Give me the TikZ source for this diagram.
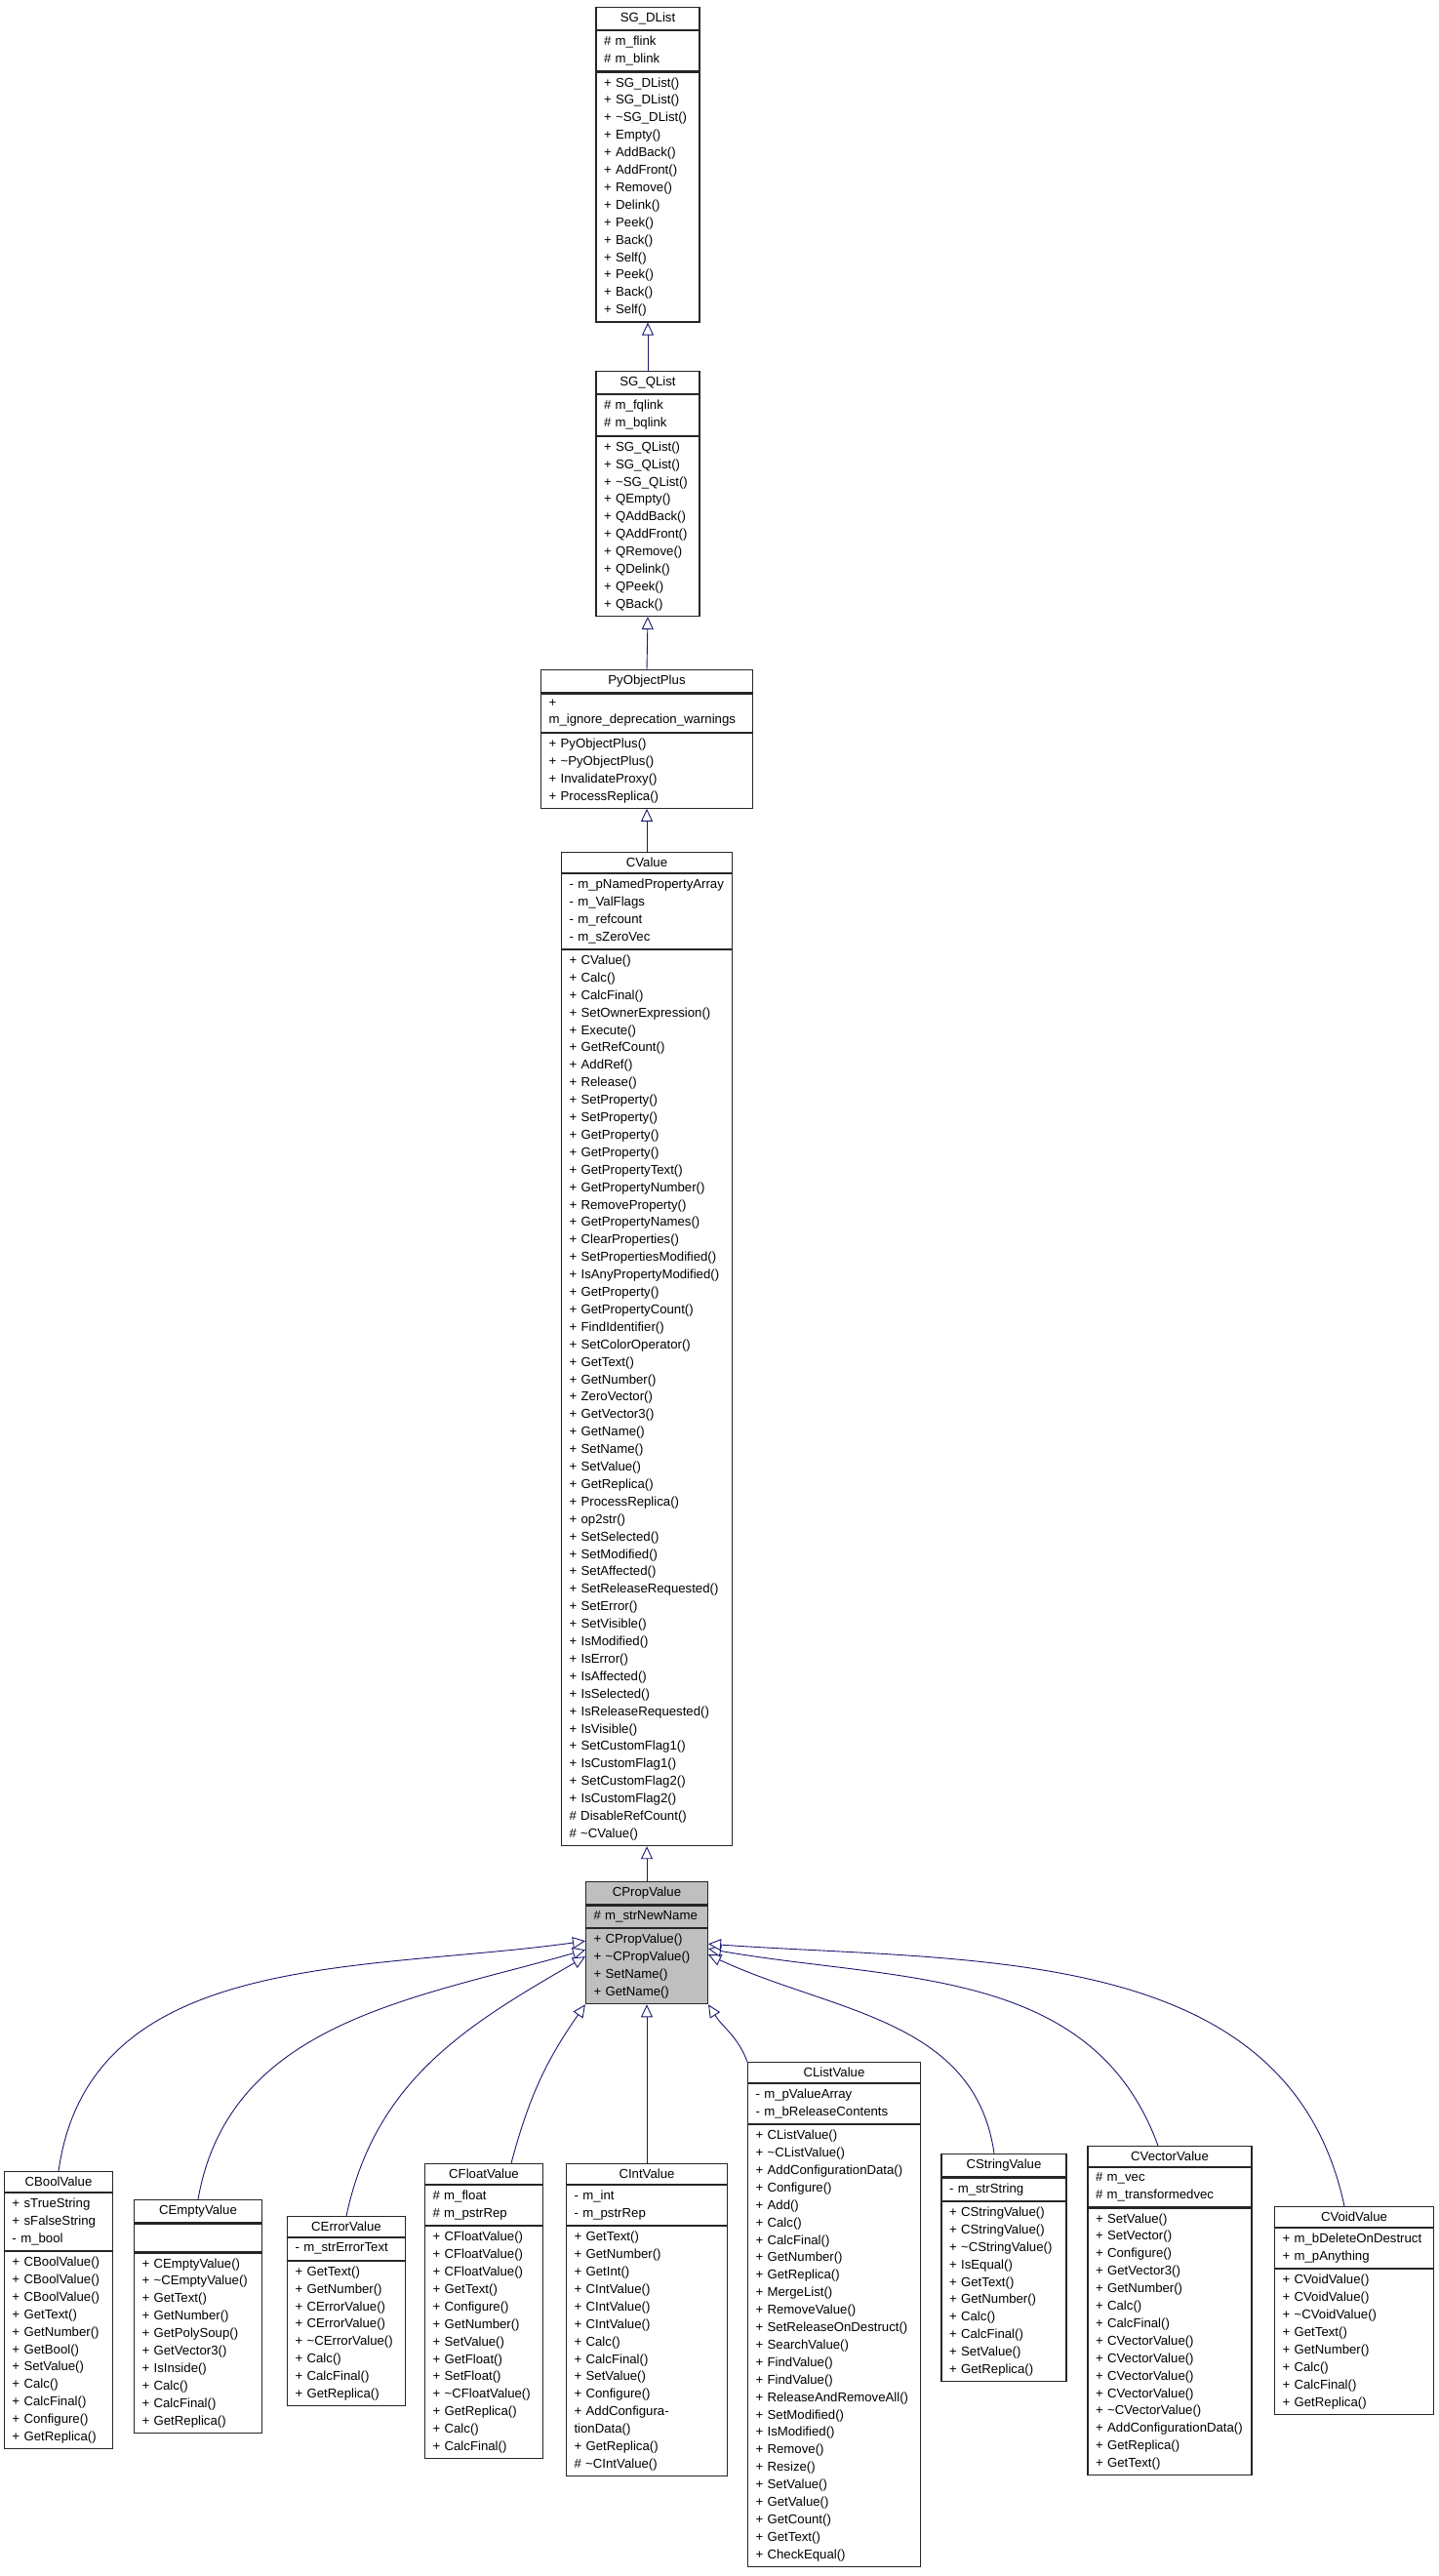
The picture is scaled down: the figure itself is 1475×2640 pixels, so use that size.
\documentclass[tikz,border=0pt]{standalone}
\usepackage{fontspec}
\setmainfont{Liberation Sans}
\usetikzlibrary{arrows.meta}
\definecolor{edgec}{HTML}{191970}
\definecolor{grayf}{HTML}{BFBFBF}
\newcommand\umlclass[8]{%
  \pgfmathsetmacro\tw{#4-16}%
  \node[ttl, fill=#8, text width=\tw pt] (#1) at (#2,#3) {#5};
  \node[prt, fill=#8, text width=\tw pt] (#1-a) at (#1.south) {#6};
  \node[prt, fill=#8, text width=\tw pt] (#1-m) at (#1-a.south) {#7};
}
\begin{document}
\begin{tikzpicture}[x=1pt,y=-1pt,
  box/.style={draw=black!85, line width=1.1pt, anchor=north, inner xsep=8pt, inner ysep=5.5pt,
     font=\fontsize{13.2}{17.9}\selectfont},
  ttl/.style={box, align=center},
  prt/.style={box, align=left},
  inh/.style={draw=edgec, line width=0.9pt, -{Triangle[open, length=13pt, width=12pt, fill=white]}}]
\useasboundingbox (0,0) rectangle (1475,2640);
\fill[white] (0,0) rectangle (1475,2640);

\umlclass{DL}{664}{7}{106}{SG\_DList}{\# m\_flink\\\# m\_blink}{+ SG\_DList()\\+ SG\_DList()\\+ \textasciitilde SG\_DList()\\+ Empty()\\+ AddBack()\\+ AddFront()\\+ Remove()\\+ Delink()\\+ Peek()\\+ Back()\\+ Self()\\+ Peek()\\+ Back()\\+ Self()}{white}
\umlclass{QL}{664}{380}{106}{SG\_QList}{\# m\_fqlink\\\# m\_bqlink}{+ SG\_QList()\\+ SG\_QList()\\+ \textasciitilde SG\_QList()\\+ QEmpty()\\+ QAddBack()\\+ QAddFront()\\+ QRemove()\\+ QDelink()\\+ QPeek()\\+ QBack()}{white}
\umlclass{PO}{663}{686}{217}{PyObjectPlus}{+ m\_ignore\_deprecation\_warnings}{+ PyObjectPlus()\\+ \textasciitilde PyObjectPlus()\\+ InvalidateProxy()\\+ ProcessReplica()}{white}
\umlclass{CV}{663}{873}{175}{CValue}{- m\_pNamedPropertyArray\\- m\_ValFlags\\- m\_refcount\\- m\_sZeroVec}{+ CValue()\\+ Calc()\\+ CalcFinal()\\+ SetOwnerExpression()\\+ Execute()\\+ GetRefCount()\\+ AddRef()\\+ Release()\\+ SetProperty()\\+ SetProperty()\\+ GetProperty()\\+ GetProperty()\\+ GetPropertyText()\\+ GetPropertyNumber()\\+ RemoveProperty()\\+ GetPropertyNames()\\+ ClearProperties()\\+ SetPropertiesModified()\\+ IsAnyPropertyModified()\\+ GetProperty()\\+ GetPropertyCount()\\+ FindIdentifier()\\+ SetColorOperator()\\+ GetText()\\+ GetNumber()\\+ ZeroVector()\\+ GetVector3()\\+ GetName()\\+ SetName()\\+ SetValue()\\+ GetReplica()\\+ ProcessReplica()\\+ op2str()\\+ SetSelected()\\+ SetModified()\\+ SetAffected()\\+ SetReleaseRequested()\\+ SetError()\\+ SetVisible()\\+ IsModified()\\+ IsError()\\+ IsAffected()\\+ IsSelected()\\+ IsReleaseRequested()\\+ IsVisible()\\+ SetCustomFlag1()\\+ IsCustomFlag1()\\+ SetCustomFlag2()\\+ IsCustomFlag2()\\\# DisableRefCount()\\\# \textasciitilde CValue()}{white}
\umlclass{PV}{663}{1928}{125}{CPropValue}{\# m\_strNewName}{+ CPropValue()\\+ \textasciitilde CPropValue()\\+ SetName()\\+ GetName()}{grayf}

\umlclass{BV}{60}{2225}{111}{CBoolValue}{+ sTrueString\\+ sFalseString\\- m\_bool}{+ CBoolValue()\\+ CBoolValue()\\+ CBoolValue()\\+ GetText()\\+ GetNumber()\\+ GetBool()\\+ SetValue()\\+ Calc()\\+ CalcFinal()\\+ Configure()\\+ GetReplica()}{white}
\umlclass{EV}{203}{2254}{131}{CEmptyValue}{\strut}{+ CEmptyValue()\\+ \textasciitilde CEmptyValue()\\+ GetText()\\+ GetNumber()\\+ GetPolySoup()\\+ GetVector3()\\+ IsInside()\\+ Calc()\\+ CalcFinal()\\+ GetReplica()}{white}
\umlclass{ER}{355}{2271}{121}{CErrorValue}{- m\_strErrorText}{+ GetText()\\+ GetNumber()\\+ CErrorValue()\\+ CErrorValue()\\+ \textasciitilde CErrorValue()\\+ Calc()\\+ CalcFinal()\\+ GetReplica()}{white}
\umlclass{FV}{496}{2217}{121}{CFloatValue}{\# m\_float\\\# m\_pstrRep}{+ CFloatValue()\\+ CFloatValue()\\+ CFloatValue()\\+ GetText()\\+ Configure()\\+ GetNumber()\\+ SetValue()\\+ GetFloat()\\+ SetFloat()\\+ \textasciitilde CFloatValue()\\+ GetReplica()\\+ Calc()\\+ CalcFinal()}{white}
\umlclass{IV}{663}{2217}{165}{CIntValue}{- m\_int\\- m\_pstrRep}{+ GetText()\\+ GetNumber()\\+ GetInt()\\+ CIntValue()\\+ CIntValue()\\+ CIntValue()\\+ Calc()\\+ CalcFinal()\\+ SetValue()\\+ Configure()\\+ AddConfigurationData()\\+ GetReplica()\\\# \textasciitilde CIntValue()}{white}
\umlclass{LV}{855}{2113}{177}{CListValue}{- m\_pValueArray\\- m\_bReleaseContents}{+ CListValue()\\+ \textasciitilde CListValue()\\+ AddConfigurationData()\\+ Configure()\\+ Add()\\+ Calc()\\+ CalcFinal()\\+ GetNumber()\\+ GetReplica()\\+ MergeList()\\+ RemoveValue()\\+ SetReleaseOnDestruct()\\+ SearchValue()\\+ FindValue()\\+ FindValue()\\+ ReleaseAndRemoveAll()\\+ SetModified()\\+ IsModified()\\+ Remove()\\+ Resize()\\+ SetValue()\\+ GetValue()\\+ GetCount()\\+ GetText()\\+ CheckEqual()}{white}
\umlclass{SV}{1029}{2207}{128}{CStringValue}{- m\_strString}{+ CStringValue()\\+ CStringValue()\\+ \textasciitilde CStringValue()\\+ IsEqual()\\+ GetText()\\+ GetNumber()\\+ Calc()\\+ CalcFinal()\\+ SetValue()\\+ GetReplica()}{white}
\umlclass{VV}{1199}{2199}{168}{CVectorValue}{\# m\_vec\\\# m\_transformedvec}{+ SetValue()\\+ SetVector()\\+ Configure()\\+ GetVector3()\\+ GetNumber()\\+ Calc()\\+ CalcFinal()\\+ CVectorValue()\\+ CVectorValue()\\+ CVectorValue()\\+ CVectorValue()\\+ \textasciitilde CVectorValue()\\+ AddConfigurationData()\\+ GetReplica()\\+ GetText()}{white}
\umlclass{OV}{1388}{2261}{163}{CVoidValue}{+ m\_bDeleteOnDestruct\\+ m\_pAnything}{+ CVoidValue()\\+ CVoidValue()\\+ \textasciitilde CVoidValue()\\+ GetText()\\+ GetNumber()\\+ Calc()\\+ CalcFinal()\\+ GetReplica()}{white}

\draw[inh] (QL.north) -- (DL-m.south);
\draw[inh] (PO.north) -- (QL-m.south);
\draw[inh] (CV.north) -- (PO-m.south);
\draw[inh] (PV.north) -- (CV-m.south);

\coordinate (l1) at ([yshift=-13pt]PV-m.north west);
\coordinate (l2) at ([yshift=-22pt]PV-m.north west);
\coordinate (l3) at ([yshift=-29pt]PV-m.north west);
\coordinate (r1) at ([yshift=-16pt]PV-m.north east);
\coordinate (r2) at ([yshift=-21pt]PV-m.north east);
\coordinate (r3) at ([yshift=-27pt]PV-m.north east);
\draw[inh] (BV.north) to[out=82, in=188] (l1);
\draw[inh] (EV.north) to[out=80, in=196] (l2);
\draw[inh] (ER.north) to[out=78, in=210] (l3);
\draw[inh] ([xshift=28pt]FV.north) to[out=75, in=235] (PV-m.south west);
\draw[inh] (IV.north) -- (PV-m.south);
\draw[inh] (LV.north west) to[out=110, in=-58] (PV-m.south east);
\draw[inh] ([xshift=-10pt]SV.north) to[out=98, in=-25] (r3);
\draw[inh] ([xshift=-12pt]VV.north) to[out=110, in=-10] (r2);
\draw[inh] ([xshift=-10pt]OV.north) to[out=102, in=-4] (r1);
\end{tikzpicture}
\end{document}
